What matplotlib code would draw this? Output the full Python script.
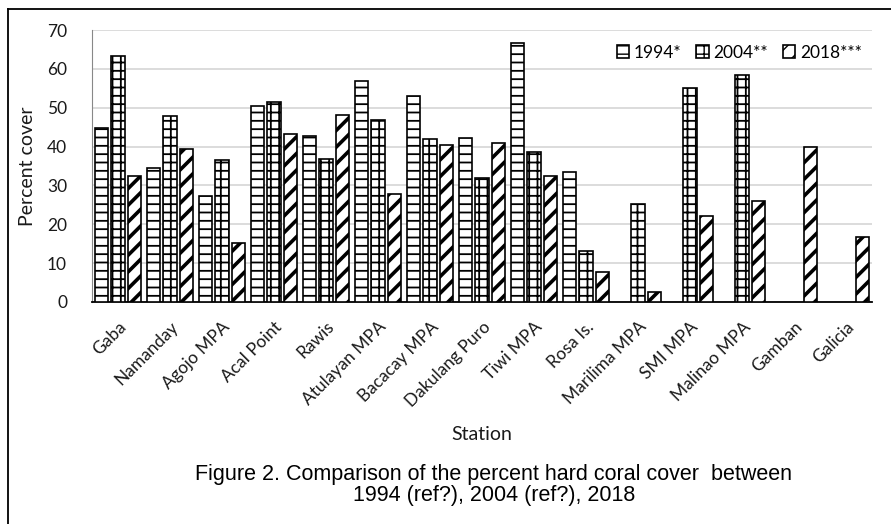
import matplotlib.pyplot as plt
import matplotlib.lines as mlines
import numpy as np

# percent hard coral cover per station
stations = ['Gaba', 'Namanday', 'Agojo MPA', 'Acal Point', 'Rawis', 'Atulayan MPA',
            'Bacacay MPA', 'Dakulang Puro', 'Tiwi MPA', 'Rosa Is.', 'Marilima MPA',
            'SMI MPA', 'Malinao MPA', 'Gamban', 'Galicia']
cover_1994 = [44.7, 34.4, 27.2, 50.5, 42.8, 56.9, 53.1, 42.3, 66.6, 33.5,
              np.nan, np.nan, np.nan, np.nan, np.nan]
cover_2004 = [63.2, 47.9, 36.5, 51.5, 36.9, 46.9, 41.9, 32.0, 38.6, 13.1,
              25.3, 55.1, 58.4, np.nan, np.nan]
cover_2018 = [32.5, 39.4, 15.1, 43.2, 48.2, 27.7, 40.5, 41.0, 32.4, 7.7,
              2.5, 22.2, 25.9, 39.9, 16.7]
series_labels = ['1994*', '2004**', '2018***']

plt.rcParams['font.family'] = ['Lato', 'DejaVu Sans']

fig = plt.figure(figsize=(8.91, 5.24), dpi=100)
ax = fig.add_axes([0.1033, 0.4237, 0.8754, 0.519])

x = np.arange(len(stations))
w = 0.256
step = 0.32

def hbar(xs, vals, hatch, hlw, label):
    with plt.rc_context({'hatch.linewidth': hlw}):
        bars = ax.bar(xs, vals, w, color='white', edgecolor='black',
                      linewidth=1.2, hatch=hatch, label=label, zorder=3)
    for b in bars:
        if hasattr(b, 'set_hatch_linewidth'):
            b.set_hatch_linewidth(hlw)
    return bars

hbar(x - step, cover_1994, '--', 1.3, series_labels[0])
hbar(x, cover_2004, '--||', 1.3, series_labels[1])
hbar(x + step, cover_2018, '//', 2.6, series_labels[2])

ax.set_ylim(0, 70)
ax.set_xlim(-0.5, len(stations) - 0.5)
ax.set_yticks(np.arange(0, 71, 10))
ax.yaxis.grid(True, color='#d9d9d9', linewidth=1.3, zorder=0)
ax.set_axisbelow(True)
for s in ['top', 'right']:
    ax.spines[s].set_visible(False)
ax.spines['left'].set_color('#888888')
ax.spines['left'].set_linewidth(0.8)
ax.spines['bottom'].set_linewidth(1.3)
ax.tick_params(axis='both', length=0, labelsize=12.5, colors='#1a1a1a')
ax.tick_params(axis='x', pad=12)
ax.tick_params(axis='y', pad=18)
ax.set_xticks(x)
ax.set_xticklabels(stations, rotation=45, ha='right', rotation_mode='anchor')

ax.set_ylabel('Percent cover', fontsize=14, color='#1a1a1a', labelpad=8)
ax.set_xlabel('Station', fontsize=14, color='#1a1a1a', labelpad=12)

ax.legend(loc='upper right', ncol=3, frameon=False, fontsize=12.5,
          handlelength=0.7, handleheight=0.7, handletextpad=0.25,
          columnspacing=0.9, bbox_to_anchor=(1.0, 0.985), borderaxespad=0.2)

fig.text(0.5544, 0.0744, 'Figure 2. Comparison of the percent hard coral cover  between\n'
         '1994 (ref?), 2004 (ref?), 2018', ha='center', va='center',
         fontsize=15.5, family='Liberation Sans', linespacing=1.0)

# outer frame (cut off at right and bottom)
fig.add_artist(mlines.Line2D([8 / 891, 8 / 891], [0, 1 - 9 / 524], color='black',
                             linewidth=1.3, transform=fig.transFigure))
fig.add_artist(mlines.Line2D([8 / 891, 1], [1 - 9 / 524, 1 - 9 / 524], color='black',
                             linewidth=1.3, transform=fig.transFigure))

fig.savefig('out.png', dpi=100)
